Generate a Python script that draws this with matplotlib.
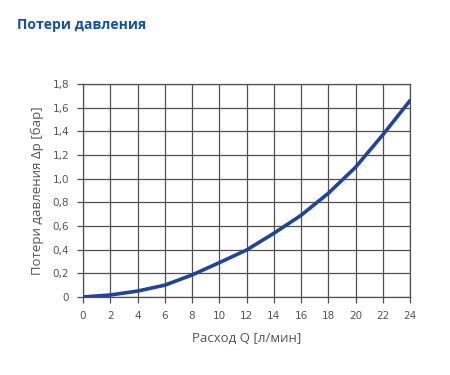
import matplotlib
matplotlib.use("Agg")
import matplotlib.pyplot as plt
from matplotlib import font_manager as fm

flow = [0, 2, 4, 6, 8, 10, 12, 14, 16, 18, 20, 22, 24]
dp = [0.0, 0.017, 0.05, 0.10, 0.186, 0.29, 0.397, 0.538, 0.69, 0.876, 1.096, 1.37, 1.66]
xticks = list(range(0, 25, 2))
yticks = [0, 0.2, 0.4, 0.6, 0.8, 1.0, 1.2, 1.4, 1.6, 1.8]
ytick_labels = ["0", "0,2", "0,4", "0,6", "0,8", "1,0", "1,2", "1,4", "1,6", "1,8"]

names = {f.name for f in fm.fontManager.ttflist}
narrow = "Liberation Sans Narrow" if "Liberation Sans Narrow" in names else "DejaVu Sans"

fig = plt.figure(figsize=(4.5, 3.75), dpi=100)
ax = fig.add_axes([83/450, 78/375, 327/450, 213/375])
grid_c = "#505050"
ax.plot(flow, dp, color="#1f449a", lw=2.6, solid_capstyle="round", zorder=3)
ax.set_xlim(0, 24)
ax.set_ylim(0, 1.8)
ax.set_xticks(xticks)
ax.set_xticklabels([str(t) for t in xticks], fontsize=7.5, color="#555555", family=narrow)
ax.set_yticks(yticks)
ax.set_yticklabels(ytick_labels, fontsize=7.5, color="#555555", family=narrow)
ax.grid(True, color=grid_c, lw=0.9)
for s in ax.spines.values():
    s.set_color(grid_c)
    s.set_linewidth(0.9)
ax.tick_params(axis="both", length=4, color=grid_c, width=0.9, pad=6)
ax.set_xlabel("Расход Q [л/мин]", fontsize=9.5, color="#555555", family="Open Sans", labelpad=8)
ax.set_ylabel("Потери давления Δp [бар]", fontsize=9.5, color="#555555", family="Open Sans", labelpad=6)
fig.text(17/450, 1 - 25/375, "Потери давления", fontsize=10, fontweight="bold",
         color="#1550a3", family="Open Sans", va="center", ha="left")
fig.savefig("out.png", dpi=100)
